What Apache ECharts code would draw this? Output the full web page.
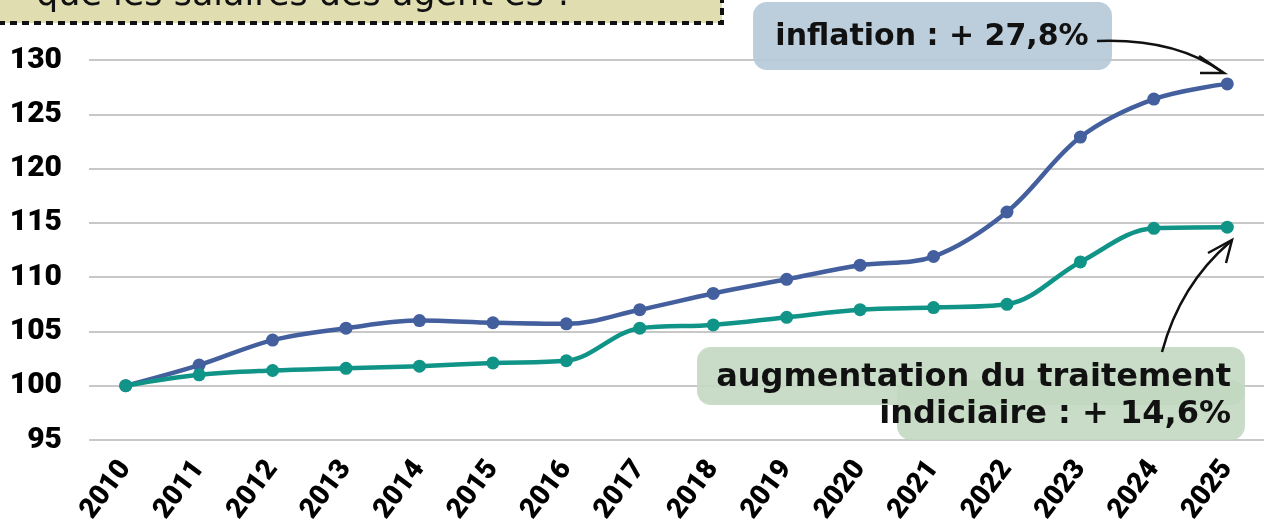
<!DOCTYPE html>
<html lang="fr">
<head>
  <meta charset="UTF-8">
  <script src="https://cdn.jsdelivr.net/npm/echarts@6.0.0/dist/echarts.min.js"></script>
  <title>Inflation et traitement indiciaire</title>
  <style>
    html, body { margin: 0; padding: 0; background: #fff; }
    .container { width: 1264px; height: 530px; }
  </style>
</head>
<body>
  <div class="container"></div>
  <script>
    const years = ["2010", "2011", "2012", "2013", "2014", "2015", "2016", "2017",
      "2018", "2019", "2020", "2021", "2022", "2023", "2024", "2025"];
    const inflation = [100, 101.9, 104.2, 105.3, 106.0, 105.8, 105.7, 107.0,
      108.5, 109.8, 111.1, 111.9, 116.0, 122.9, 126.4, 127.8];
    const traitement = [100, 101.0, 101.4, 101.6, 101.8, 102.1, 102.3, 105.3,
      105.6, 106.3, 107.0, 107.2, 107.5, 111.4, 114.5, 114.6];
    const yTicks = [95, 100, 105, 110, 115, 120, 125, 130];

    const font = "DejaVu Sans";
    const axisFont = "Roboto";
    const chart = echarts.init(document.querySelector(".container"));

    const options = {
      animation: false,
      grid: { left: 89, right: -9, top: 60, bottom: 90 },
      xAxis: {
        type: "category",
        data: years,
        boundaryGap: true,
        axisLine: { show: false },
        axisTick: { show: false },
        axisLabel: {
          rotate: 53,
          margin: 24,
          interval: 0,
          color: "#000",
          fontFamily: axisFont,
          fontWeight: 900,
          fontSize: 28
        }
      },
      yAxis: {
        type: "value",
        min: yTicks[0],
        max: yTicks[yTicks.length - 1],
        interval: 5,
        axisLine: { show: false },
        axisTick: { show: false },
        splitLine: { lineStyle: { color: "#c8c8c8", width: 2 } },
        axisLabel: {
          margin: 27,
          color: "#000",
          fontFamily: axisFont,
          fontWeight: 900,
          fontSize: 30
        }
      },
      series: [
        {
          name: "inflation",
          type: "line",
          data: inflation,
          smooth: 0.35,
          symbol: "circle",
          symbolSize: 13,
          z: 5,
          lineStyle: { color: "#435f9e", width: 4.5 },
          itemStyle: { color: "#435f9e" }
        },
        {
          name: "traitement",
          type: "line",
          data: traitement,
          smooth: 0.35,
          symbol: "circle",
          symbolSize: 13,
          z: 5,
          lineStyle: { color: "#109488", width: 4.5 },
          itemStyle: { color: "#109488" }
        }
      ],
      graphic: [
        // encart du titre, coupé en haut
        {
          type: "rect",
          z: 10,
          shape: { x: -10, y: -40, width: 732, height: 63 },
          style: { fill: "#e0ddb0", stroke: "#111", lineWidth: 4, lineDash: [7, 5] }
        },
        {
          type: "text",
          z: 11,
          style: {
            x: 36, y: -4,
            text: "que les salaires des agent·es ?",
            fill: "#111",
            font: "35px " + font,
            verticalAlign: "middle"
          }
        },
        // encart inflation
        {
          type: "rect",
          z: 10,
          shape: { x: 753, y: 2, width: 359, height: 68, r: 14 },
          style: { fill: "rgba(181,200,215,0.9)" }
        },
        {
          type: "text",
          z: 11,
          style: {
            x: 932, y: 37,
            text: "inflation : + 27,8%",
            fill: "#111",
            font: "bold 30px " + font,
            align: "center",
            verticalAlign: "middle"
          }
        },
        {
          type: "bezierCurve",
          z: 11,
          shape: { x1: 1097, y1: 41, cpx1: 1175, cpy1: 38, x2: 1222, y2: 72 },
          style: { stroke: "#111", lineWidth: 2.5, fill: null }
        },
        {
          type: "polyline",
          z: 11,
          shape: { points: [[1199, 56], [1224, 73], [1200, 73]] },
          style: { stroke: "#111", lineWidth: 2.5, fill: null }
        },
        // encart traitement indiciaire
        {
          type: "rect",
          z: 10,
          shape: { x: 697, y: 347, width: 548, height: 58, r: 14 },
          style: { fill: "rgba(194,216,193,0.9)" }
        },
        {
          type: "rect",
          z: 10,
          shape: { x: 897, y: 380, width: 348, height: 60, r: 14 },
          style: { fill: "rgba(194,216,193,0.9)" }
        },
        {
          type: "text",
          z: 11,
          style: {
            x: 1231, y: 396,
            text: "augmentation du traitement\nindiciaire : + 14,6%",
            fill: "#111",
            font: "bold 32px " + font,
            lineHeight: 37,
            align: "right",
            verticalAlign: "middle"
          }
        },
        {
          type: "bezierCurve",
          z: 11,
          shape: { x1: 1162, y1: 352, cpx1: 1180, cpy1: 285, x2: 1230, y2: 242 },
          style: { stroke: "#111", lineWidth: 2.5, fill: null }
        },
        {
          type: "polyline",
          z: 11,
          shape: { points: [[1208, 253], [1232, 240], [1226, 263]] },
          style: { stroke: "#111", lineWidth: 2.5, fill: null }
        }
      ]
    };

    chart.setOption(options);
  </script>
</body>
</html>
